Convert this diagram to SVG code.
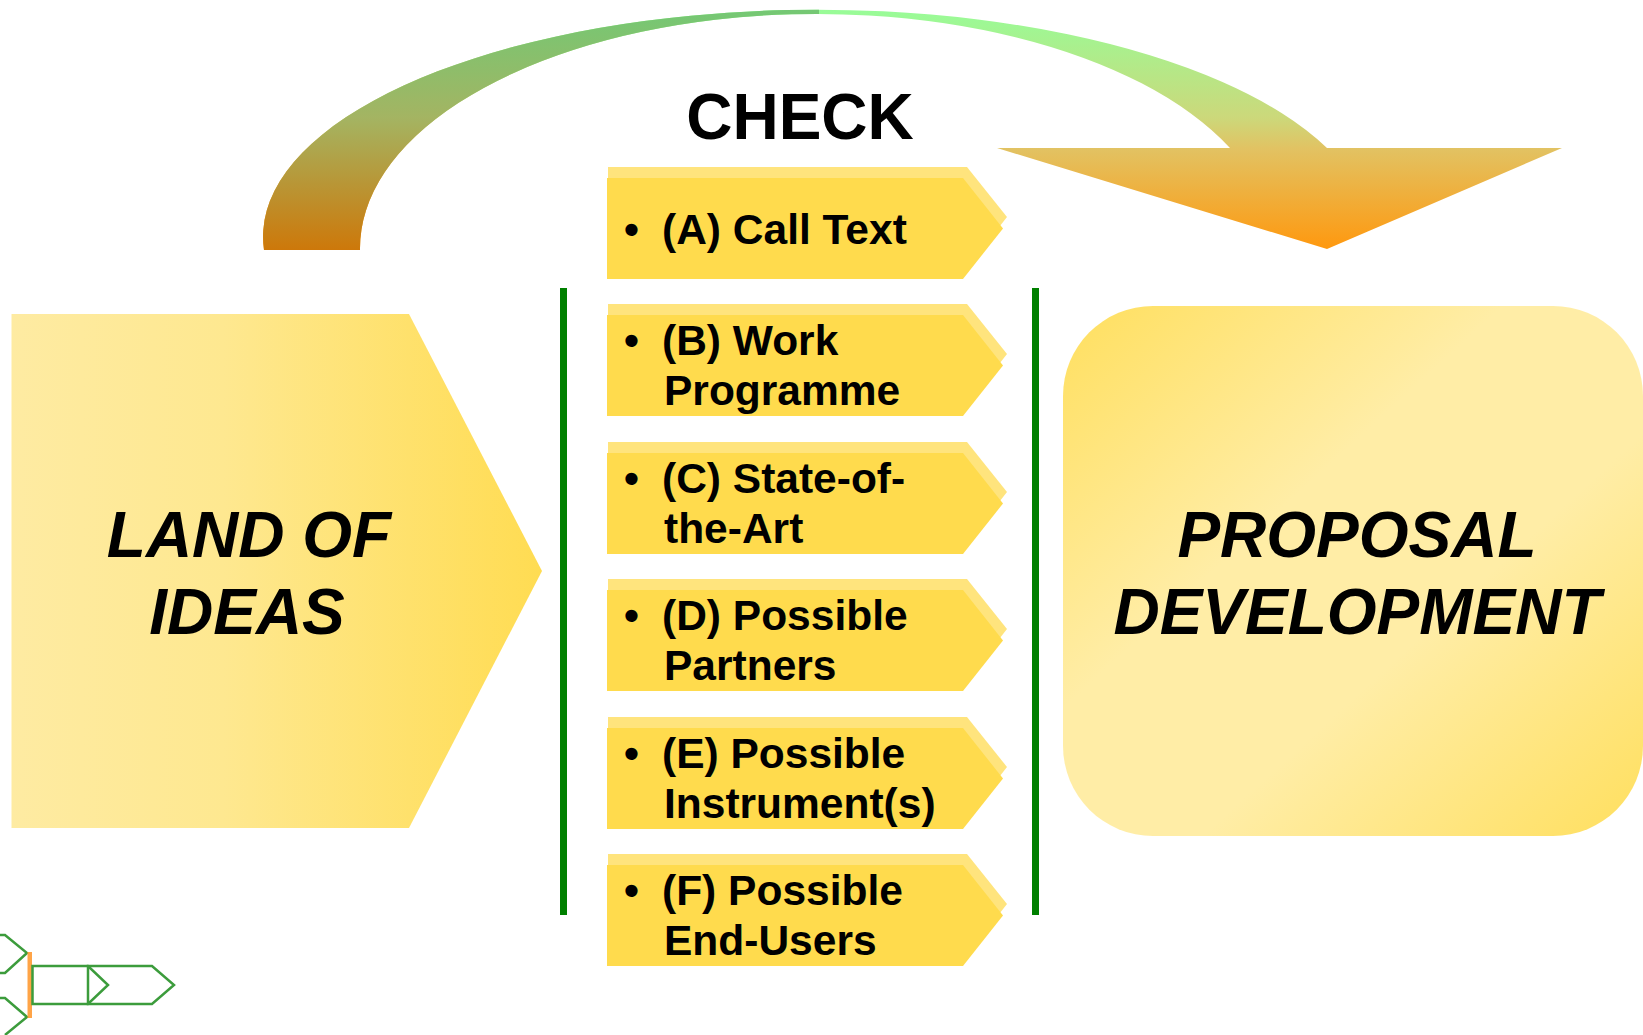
<svg xmlns="http://www.w3.org/2000/svg" width="1643" height="1035" viewBox="0 0 1643 1035">
  <style>
    .lbl { font-family: "Liberation Sans", Arial, sans-serif; font-weight: bold; fill: #000; }
    .big { font-size: 64px; font-style: italic; text-anchor: middle; }
    .item { font-size: 42.5px; }
    .front { fill: #FFDB4D; }
    .back { fill: #FFE47D; }
    .rule { stroke: #008000; stroke-width: 7; }
    .mini { fill: none; stroke: #3C9C3C; stroke-width: 2.5; }
  </style>
  <defs>
    <linearGradient id="ideasFill" x1="0" y1="0" x2="1" y2="0">
      <stop offset="0" stop-color="#FEEBA2"/>
      <stop offset="0.4" stop-color="#FEE890"/>
      <stop offset="1" stop-color="#FFDC52"/>
    </linearGradient>
    <linearGradient id="proposalFill" x1="0" y1="0" x2="1" y2="1">
      <stop offset="0" stop-color="#FFDF5E"/>
      <stop offset="0.38" stop-color="#FFEDA6"/>
      <stop offset="0.62" stop-color="#FFEDA6"/>
      <stop offset="1" stop-color="#FFDF5E"/>
    </linearGradient>
    <linearGradient id="arcLight" gradientUnits="userSpaceOnUse" x1="0" y1="10" x2="0" y2="250">
      <stop offset="0" stop-color="#98FC98"/>
      <stop offset="0.45" stop-color="#CCD87A"/>
      <stop offset="0.58" stop-color="#E2C262"/>
      <stop offset="1" stop-color="#FF980E"/>
    </linearGradient>
    <linearGradient id="arcDark" gradientUnits="userSpaceOnUse" x1="0" y1="10" x2="0" y2="250">
      <stop offset="0" stop-color="#74C874"/>
      <stop offset="0.45" stop-color="#A4B462"/>
      <stop offset="1" stop-color="#CD780A"/>
    </linearGradient>
    <clipPath id="leftHalf">
      <rect x="0" y="0" width="819" height="260"/>
    </clipPath>
    <path id="arcShape" d="M 264 250 A 554 227 0 0 1 1327 148 L 1562 148 L 1327 249 L 997 148 L 1230 148 A 457 234.5 0 0 0 360 250 Z"/>
  </defs>

  <rect width="1643" height="1035" fill="#FFFFFF"/>

  <!-- curved arrow over the checklist -->
  <g id="check-arrow">
    <use href="#arcShape" fill="url(#arcLight)"/>
    <use href="#arcShape" fill="url(#arcDark)" clip-path="url(#leftHalf)"/>
  </g>

  <g id="check-title">
    <text class="lbl" x="800" y="139" font-size="64" text-anchor="middle">CHECK</text>
  </g>

  <!-- start node -->
  <g id="land-of-ideas">
    <polygon points="11.5,314 409,314 542,571 409,828 11.5,828" fill="url(#ideasFill)"/>
    <text class="lbl big" x="249" y="557">LAND OF</text>
    <text class="lbl big" x="247" y="634">IDEAS</text>
  </g>

  <!-- end node -->
  <g id="proposal-development">
    <rect x="1063" y="306" width="580" height="530" rx="90" ry="90" fill="url(#proposalFill)"/>
    <text class="lbl big" x="1357" y="557">PROPOSAL</text>
    <text class="lbl big" x="1357" y="634">DEVELOPMENT</text>
  </g>

  <!-- separators framing the checklist -->
  <g id="connectors">
    <line class="rule" x1="563.5" y1="288" x2="563.5" y2="915"/>
    <line class="rule" x1="1035.5" y1="288" x2="1035.5" y2="915"/>
  </g>

  <!-- checklist items: lighter tab behind, main tab in front -->
  <g id="item-a" transform="translate(0,178)">
    <polygon class="back" points="608,-11 967,-11 1007,39 967,90 608,90"/>
    <polygon class="front" points="607,0 963,0 1003,50.5 963,101 607,101"/>
    <text class="lbl item" x="624" y="66">•</text>
    <text class="lbl item" x="662" y="66">(A) Call Text</text>
  </g>
  <g id="item-b" transform="translate(0,315)">
    <polygon class="back" points="608,-11 967,-11 1007,39 967,90 608,90"/>
    <polygon class="front" points="607,0 963,0 1003,50.5 963,101 607,101"/>
    <text class="lbl item" x="624" y="40">•</text>
    <text class="lbl item" x="662" y="40">(B) Work</text>
    <text class="lbl item" x="664" y="90">Programme</text>
  </g>
  <g id="item-c" transform="translate(0,453)">
    <polygon class="back" points="608,-11 967,-11 1007,39 967,90 608,90"/>
    <polygon class="front" points="607,0 963,0 1003,50.5 963,101 607,101"/>
    <text class="lbl item" x="624" y="40">•</text>
    <text class="lbl item" x="662" y="40">(C) State-of-</text>
    <text class="lbl item" x="664" y="90">the-Art</text>
  </g>
  <g id="item-d" transform="translate(0,590)">
    <polygon class="back" points="608,-11 967,-11 1007,39 967,90 608,90"/>
    <polygon class="front" points="607,0 963,0 1003,50.5 963,101 607,101"/>
    <text class="lbl item" x="624" y="40">•</text>
    <text class="lbl item" x="662" y="40">(D) Possible</text>
    <text class="lbl item" x="664" y="90">Partners</text>
  </g>
  <g id="item-e" transform="translate(0,728)">
    <polygon class="back" points="608,-11 967,-11 1007,39 967,90 608,90"/>
    <polygon class="front" points="607,0 963,0 1003,50.5 963,101 607,101"/>
    <text class="lbl item" x="624" y="40">•</text>
    <text class="lbl item" x="662" y="40">(E) Possible</text>
    <text class="lbl item" x="664" y="90">Instrument(s)</text>
  </g>
  <g id="item-f" transform="translate(0,865)">
    <polygon class="back" points="608,-11 967,-11 1007,39 967,90 608,90"/>
    <polygon class="front" points="607,0 963,0 1003,50.5 963,101 607,101"/>
    <text class="lbl item" x="624" y="40">•</text>
    <text class="lbl item" x="662" y="40">(F) Possible</text>
    <text class="lbl item" x="664" y="90">End-Users</text>
  </g>

  <!-- small outlined chevrons in the lower-left corner -->
  <g id="mini-chevrons">
    <polyline class="mini" points="0,935 5,935 27,953 5,973 0,973"/>
    <polyline class="mini" points="0,998 5,998 27,1017 5,1035"/>
    <rect x="27.5" y="952" width="4.5" height="66" fill="#FF9A33" opacity="0.9"/>
    <polygon class="mini" points="32.5,966 88,966 108,985 88,1004 32.5,1004"/>
    <polygon class="mini" points="88,966 152,966 174,985 152,1004 88,1004"/>
  </g>
</svg>
